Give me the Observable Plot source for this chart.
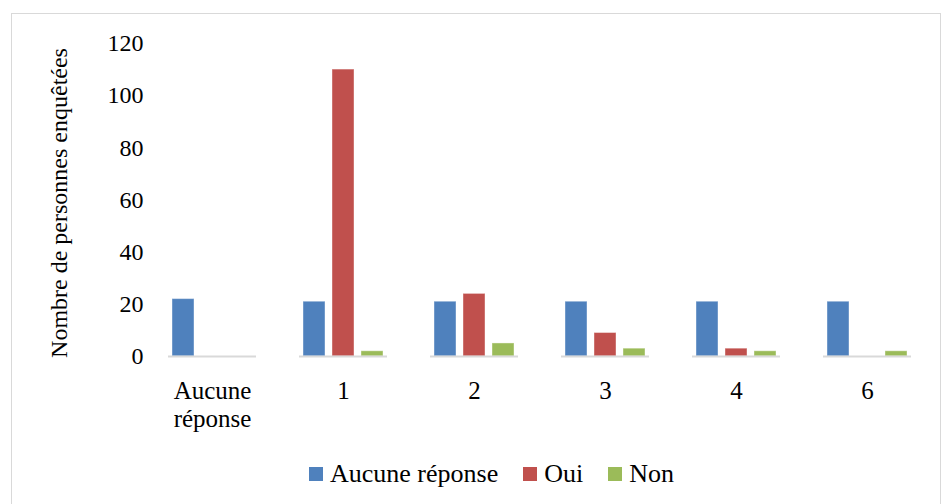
<!DOCTYPE html>
<html>
<head>
<meta charset="utf-8">
<script src="https://cdn.jsdelivr.net/npm/d3@7"></script>
<script src="https://cdn.jsdelivr.net/npm/@observablehq/plot@0.6"></script>
<style>
  html, body { margin: 0; padding: 0; background: #fff; }
  body { width: 950px; height: 504px; overflow: hidden; }
  #frame { position: absolute; left: 11px; top: 13px; width: 928px; height: 500px; border: 1px solid #d9d9d9; background: #fff; }
  #legend { position: absolute; left: 297px; top: 445px; display: flex; align-items: center; font-family: 'Liberation Serif', 'Times New Roman', serif; font-size: 26px; line-height: 30px; color: #000; white-space: nowrap; }
  .item { display: flex; align-items: center; margin-right: 25px; }
  .sw { width: 14px; height: 14px; margin-right: 7px; }
</style>
</head>
<body>
<div id="frame"><div id="chart"></div><div id="legend"></div></div>
<script>
const categories = ["Aucune\nréponse", "1", "2", "3", "4", "6"];
const seriesNames = ["Aucune réponse", "Oui", "Non"];
const aucuneReponse = [22, 21, 21, 21, 21, 21];
const oui = [0, 110, 24, 9, 3, 0];
const non = [0, 2, 5, 3, 2, 2];
const colors = ["#4f81bd", "#c0504d", "#9bbb59"];
const yTicks = [0, 20, 40, 60, 80, 100, 120];

const valuesBySeries = [aucuneReponse, oui, non];
const data = [];
categories.forEach((c, i) => {
  seriesNames.forEach((s, j) => data.push({cat: c, series: s, value: valuesBySeries[j][i]}));
});

const FONT = "'Liberation Serif', 'Times New Roman', serif";

const chart = Plot.plot({
  width: 928,
  height: 432,
  marginLeft: 133,
  marginRight: 5,
  marginTop: 29,
  marginBottom: 90,
  style: {fontFamily: FONT, fontSize: "24px", color: "#000", background: "transparent"},
  fx: {domain: categories, paddingInner: 0.326, paddingOuter: 0.163, label: null},
  x: {domain: seriesNames, paddingInner: 0.25, paddingOuter: 0.125, axis: null},
  y: {domain: [0, 120], label: null},
  color: {domain: seriesNames, range: colors},
  marks: [
    Plot.barY(data, {fx: "cat", x: "series", y: "value", fill: "series", stroke: "#ffffff", strokeOpacity: 0.4, strokeWidth: 1}),
    Plot.axisY({ticks: yTicks, tickSize: 0, tickPadding: 25, fontSize: 24, fontFamily: FONT, label: null}),
    Plot.axisFx({anchor: "bottom", tickSize: 0, tickPadding: 23, fontSize: 25, fontFamily: FONT, lineHeight: 1.12, label: null}),
    Plot.ruleY([0], {stroke: "#d9d9d9", strokeWidth: 2}),
    Plot.text(["Nombre de personnes enquêtées"], {facet: "super", frameAnchor: "left", dx: -109, dy: 3, rotate: -90, fontSize: 24, fontFamily: FONT, textAnchor: "middle", lineAnchor: "middle"})
  ]
});
document.getElementById("chart").appendChild(chart);

const legend = document.getElementById("legend");
seriesNames.forEach((s, i) => {
  const item = document.createElement("div");
  item.className = "item";
  const sw = document.createElement("div");
  sw.className = "sw";
  sw.style.background = colors[i];
  const t = document.createElement("span");
  t.textContent = s;
  item.appendChild(sw);
  item.appendChild(t);
  legend.appendChild(item);
});
</script>
</body>
</html>
